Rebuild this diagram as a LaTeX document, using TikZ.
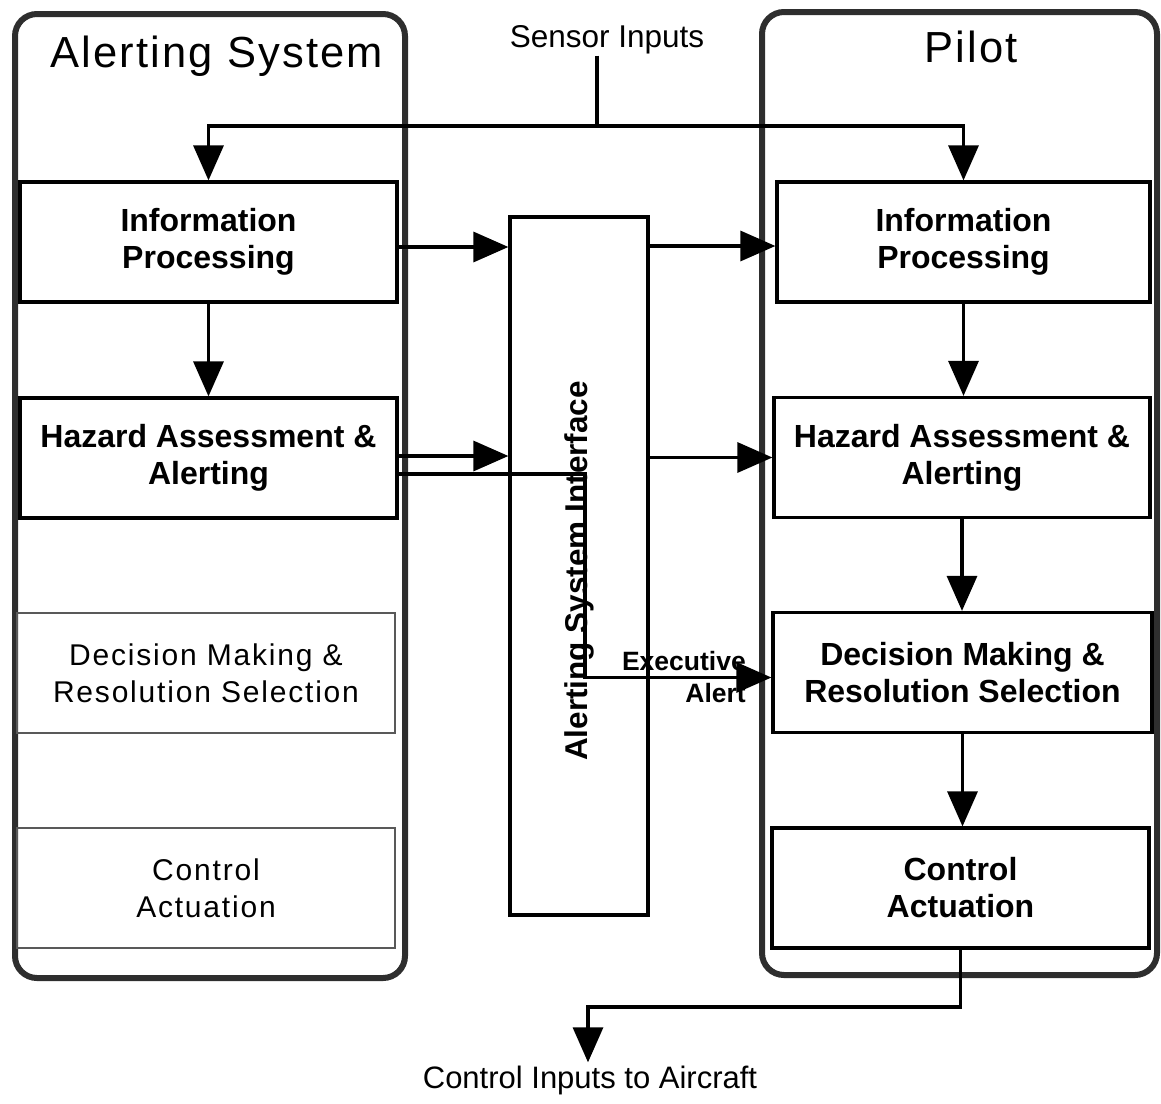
\documentclass[tikz,border=0pt]{standalone}
\usepackage{fontspec}
\setmainfont{Liberation Sans}
\newfontfamily\titlefont[LetterSpace=5]{Liberation Sans}
\newfontfamily\spacedfont[LetterSpace=6]{Liberation Sans}
\usetikzlibrary{arrows.meta,calc}
\begin{document}
\begin{tikzpicture}[x=1pt,y=-1pt,
  box/.style={draw, line width=3.2pt, minimum width=377pt, minimum height=120pt, align=center, inner sep=0pt, font=\fontsize{32}{37}\selectfont\bfseries},
  lbox/.style={draw=black!65, line width=1.8pt, minimum width=378pt, minimum height=120pt, align=center, inner sep=0pt, font=\spacedfont\fontsize{30}{37}\selectfont},
  outer/.style={draw=black!82, line width=6pt, rounded corners=22pt, inner sep=0pt},
  arr/.style={line width=3.2pt, -{Triangle[width=30pt,length=35pt]}},
  ln/.style={line width=3.2pt}]
\useasboundingbox (0,0) rectangle (1161,1103);
% outer frames
\node[outer, minimum width=390pt, minimum height=964pt] (lsys) at (210,496) {};
\node[outer, minimum width=395pt, minimum height=963pt] (rsys) at (959.5,493.5) {};
\node[anchor=base west, inner sep=0pt, font=\titlefont\fontsize{43.5}{50}\selectfont] (tl) at (50,67) {Alerting System};
\node[anchor=base, inner sep=0pt, font=\titlefont\fontsize{43.5}{50}\selectfont] (tr) at (971,62) {Pilot};
% left boxes
\node[box] (lip) at (208.5,242) {Information\\Processing};
\node[box] (lhz) at (208.5,458) {Hazard Assessment \&\\Alerting};
\node[lbox] (ldm) at (206,673) {Decision Making \&\\Resolution Selection};
\node[lbox] (lca) at (206,888) {Control\\Actuation};
% right boxes
\node[box, minimum width=373pt] (rip) at (963.5,242) {Information\\Processing};
\node[box, minimum width=376pt] (rhz) at (962,457.5) {Hazard Assessment \&\\Alerting};
\node[box, minimum width=379pt] (rdm) at (962.5,672.5) {Decision Making \&\\Resolution Selection};
\node[box, minimum width=377pt] (rca) at (960.5,888) {Control\\Actuation};
% middle interface
\node[draw, line width=3.2pt, minimum width=138pt, minimum height=698pt, inner sep=0pt] (mid) at (579,566) {};
\node[rotate=90, anchor=base, inner sep=0pt, font=\fontsize{31.5}{37}\selectfont\bfseries] (asi) at (587,571) {Alerting System Interface};
% sensor inputs
\node[anchor=base, inner sep=2pt, font=\fontsize{31.5}{36}\selectfont] (sens) at (607,47) {Sensor Inputs};
\coordinate (j) at (597,126);
\draw[ln] (sens.south -| j) -- (j);
\draw[arr] (j) -| (lip.north);
\draw[arr] (j) -| (rip.north);
% horizontal connectors
\coordinate (a0) at ([yshift=-5pt]lip.east);
\draw[arr] (a0) -- (a0 -| mid.west);
\coordinate (a1) at ([yshift=-4pt]rip.west);
\draw[arr] (mid.east |- a1) -- (a1);
\coordinate (a2) at ([yshift=2pt]lhz.east);
\draw[arr] (a2) -- (a2 -| mid.west);
\draw[arr] (mid.east |- rhz.west) -- (rhz.west);
\coordinate (e1) at ([yshift=-16pt]lhz.east);
\coordinate (e2) at ([yshift=-5pt]rdm.west);
\coordinate (ebend) at (585,474);
\draw[arr] (e1) -- (ebend) |- (e2);
\node[anchor=north east, align=right, inner sep=0pt, font=\fontsize{26.5}{32}\selectfont\bfseries] (exa) at (746,651) {Executive\\Alert};
% vertical connectors
\draw[arr] (lip.south) -- (lhz.north);
\draw[arr] (rip.south) -- (rip.south |- rhz.north);
\draw[arr] (rhz.south) -- (rhz.south |- rdm.north);
\draw[arr] (rdm.south) -- (rdm.south |- rca.north);
% output
\node[anchor=base, inner sep=3pt, font=\fontsize{31}{36}\selectfont] (out) at (590,1088) {Control Inputs to Aircraft};
\coordinate (cb) at (588,1007);
\draw[arr] (rca.south) |- (cb) -- (cb |- out.north);
\end{tikzpicture}
\end{document}
